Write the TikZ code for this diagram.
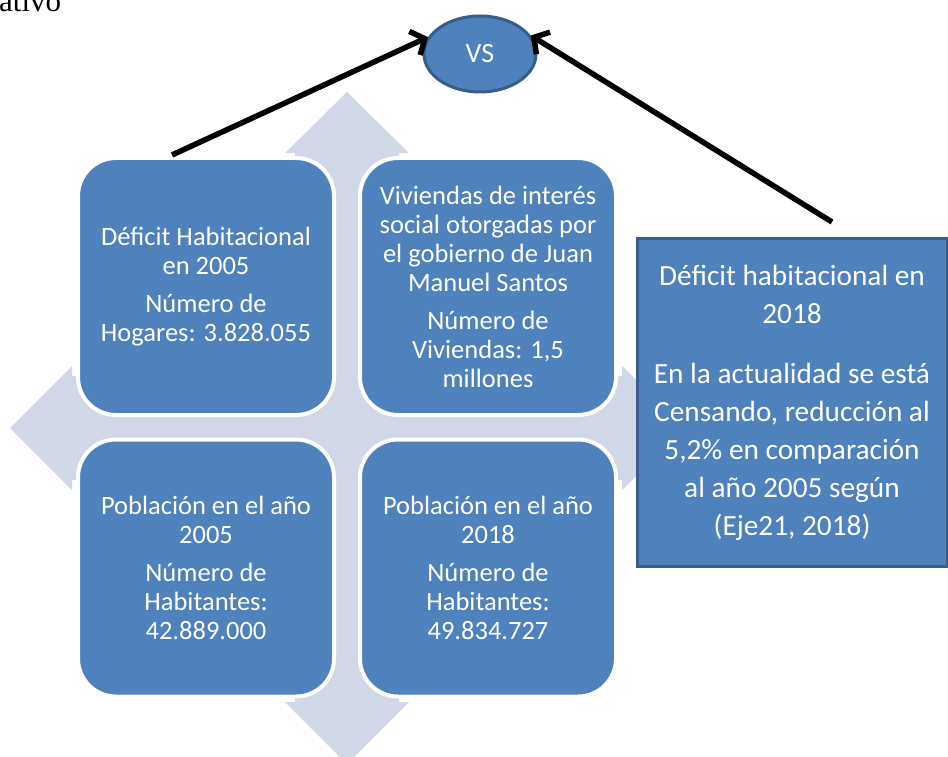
\documentclass[tikz,border=0pt]{standalone}
\usepackage{fontspec}
\setmainfont{Carlito}
\newfontfamily\seriffont{Liberation Serif}
\usetikzlibrary{arrows.meta,shapes.geometric}
\definecolor{boxblue}{RGB}{79,129,189}
\definecolor{lightbg}{RGB}{208,216,232}
\definecolor{darkedge}{RGB}{56,93,138}
\tikzset{
  cell/.style={rectangle, rounded corners=38pt, fill=boxblue, draw=white, line width=4pt,
    minimum width=256pt, minimum height=257pt, inner sep=0pt, text=white, align=center,
    font=\fontsize{26.5}{29}\selectfont},
  bigbox/.style={rectangle, fill=boxblue, draw=darkedge, line width=3pt,
    minimum width=310pt, minimum height=328pt, inner sep=0pt, text=white, align=center,
    font=\fontsize{29.3}{38}\selectfont},
  vsnode/.style={ellipse, fill=boxblue, draw=darkedge, line width=3pt,
    minimum width=112pt, minimum height=76pt, inner sep=0pt, text=white,
    font=\fontsize{28}{30}\selectfont},
  arr/.style={line width=5.5pt, -{Straight Barb[length=11pt,width=26pt]}}
}
\begin{document}
\begin{tikzpicture}[x=1pt,y=-1pt]
\useasboundingbox (0,0) rectangle (948,757);
% background cross of arrows
\fill[lightbg] (347,92) -- (409,153) -- (399,153) -- (399,376) -- (622,376) -- (622,366)
  -- (684,428) -- (622,490) -- (622,480) -- (399,480) -- (399,702) -- (409,702)
  -- (347,764) -- (285,702) -- (295,702) -- (295,480) -- (72,480) -- (72,490)
  -- (10,428) -- (72,366) -- (72,376) -- (295,376) -- (295,153) -- (285,153) -- cycle;
% four cells
\node[cell] (b1) at (206,286.5) {Déficit Habitacional\\en 2005\\[9pt]Número de\\Hogares: 3.828.055};
\node[cell] (b2) at (488,286.5) {Viviendas de interés\\social otorgadas por\\el gobierno de Juan\\Manuel Santos\\[9pt]Número de\\Viviendas: 1,5\\millones};
\node[cell] (b3) at (206,568) {Población en el año\\2005\\[9pt]Número de\\Habitantes:\\42.889.000};
\node[cell] (b4) at (488,568) {Población en el año\\2018\\[9pt]Número de\\Habitantes:\\49.834.727};
% right box
\node[bigbox] (r) at (792,402.5) {Déficit habitacional en\\2018\\[22pt]En la actualidad se está\\Censando, reducción al\\5,2\% en comparación\\al año 2005 según\\(Eje21, 2018)};
% VS ellipse
\node[vsnode] (vs) at (480,54) {VS};
% top-left fragment
\node[anchor=base west, inner sep=0pt, font=\seriffont\fontsize{31}{34}\selectfont] (frag) at (-1,12) {ativo};
% arrows
\coordinate (la) at (172,155);
\coordinate (ra) at (832,222);
\draw[arr] (la) -- (vs.162);
\draw[arr] (ra) -- (vs.20);
\end{tikzpicture}
\end{document}
